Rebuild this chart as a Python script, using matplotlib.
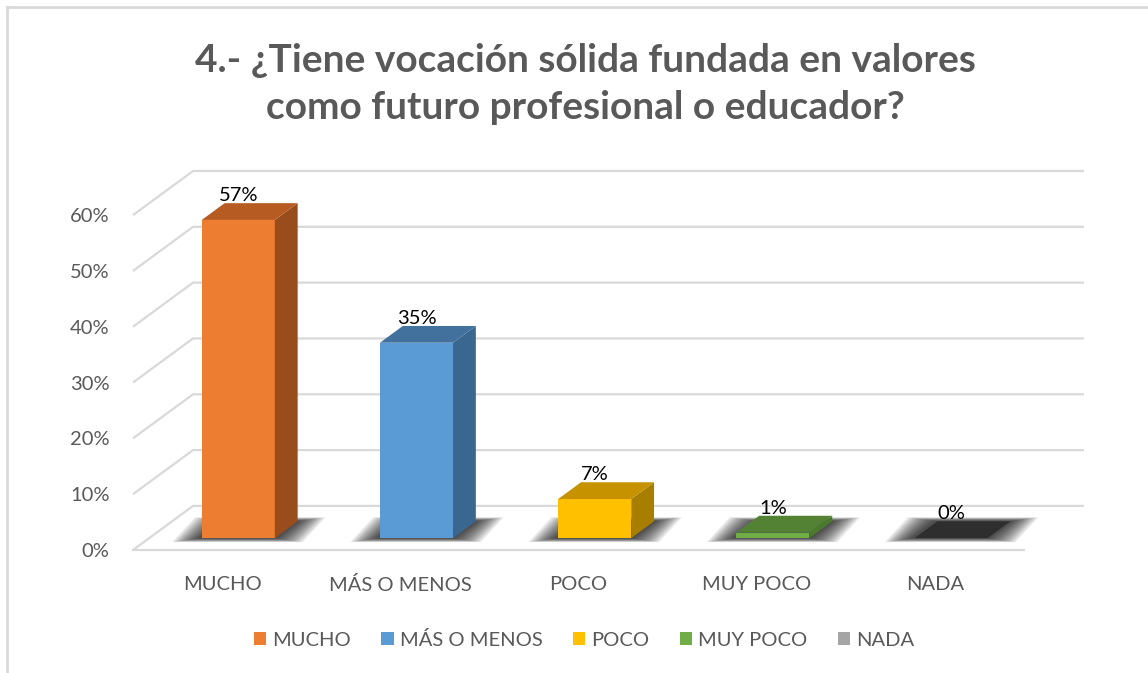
import numpy as np
import matplotlib
matplotlib.use("Agg")
import matplotlib.pyplot as plt
from matplotlib.patches import Polygon, Rectangle, Patch
from matplotlib.lines import Line2D

# data
categories = ["MUCHO", "MÁS O MENOS", "POCO", "MUY POCO", "NADA"]
values = [57, 35, 7, 1, 0]  # percent
labels = ["57%", "35%", "7%", "1%", "0%"]
yticks = [0, 10, 20, 30, 40, 50, 60]

front_cols = ["#ED7D31", "#5B9BD5", "#FFC000", "#70AD47", "#A5A5A5"]
side_cols = ["#9A4D1C", "#3A6790", "#A87E00", "#4B7A2F", "#333333"]
top_cols = ["#B65B21", "#41719C", "#C69200", "#548235", "#2E2E2E"]

plt.rcParams['font.family'] = ['Lato', 'DejaVu Sans']
grey = "#595959"
grid_col = "#D9D9D9"

# fake 3d geometry (data units): depth vector of the floor, bar position in depth
dx, dy = 0.337, 7.9
f_d, b_d = 0.27, 0.65
w = 0.205

fig = plt.figure(figsize=(11.48, 6.73), dpi=100)
ax = fig.add_axes([133/1148, (673-550)/673, 951/1148, 379/673])
ax.set_xlim(-0.5, 4.5 + dx)
ax.set_ylim(0, 60 + dy)
for s in ax.spines.values():
    s.set_visible(False)

# walls / gridlines
for v in yticks:
    ax.plot([-0.5, -0.5 + dx, 4.5 + dx], [v, v + dy, v + dy], color=grid_col, lw=1.6,
            solid_capstyle='butt', clip_on=False, zorder=1)
ax.plot([-0.5, 4.5], [0, 0], color=grid_col, lw=1.6, clip_on=False, zorder=1)

x = np.arange(len(categories))

# soft shadows on the floor
for i in x:
    for k in range(12, 0, -1):
        ex = 0.013 * k
        ey = 0.06 * k
        pts = [(i - w + f_d*dx - ex - 0.01, f_d*dy - ey), (i + w + f_d*dx + ex, f_d*dy - ey),
               (i + w + b_d*dx + ex, b_d*dy + ey), (i - w + b_d*dx - ex - 0.01, b_d*dy + ey)]
        ax.add_patch(Polygon(pts, closed=True, facecolor="black", edgecolor="none",
                             alpha=0.09, zorder=2))

# bars
for i, v in zip(x, values):
    x0 = i - w + f_d*dx
    x1 = i + w + f_d*dx
    y0 = f_d*dy
    ddx = (b_d - f_d)*dx
    ddy = (b_d - f_d)*dy
    if v > 0:
        ax.add_patch(Rectangle((x0, y0), 2*w, v, facecolor=front_cols[i], edgecolor="none", zorder=3))
        ax.add_patch(Polygon([(x1, y0), (x1 + ddx, y0 + ddy), (x1 + ddx, y0 + ddy + v), (x1, y0 + v)],
                             facecolor=side_cols[i], edgecolor="none", zorder=3))
    ax.add_patch(Polygon([(x0, y0 + v), (x1, y0 + v), (x1 + ddx, y0 + ddy + v), (x0 + ddx, y0 + ddy + v)],
                         facecolor=top_cols[i], edgecolor="none", zorder=3))
    ax.text(i + f_d*dx, v + b_d*dy + 0.4, labels[i], ha='center', va='baseline',
            fontsize=14.5, color="black", zorder=5)

ax.set_yticks(yticks)
ax.set_yticklabels([f"{t}%" for t in yticks], color=grey, fontsize=14.5)
ax.set_xticks(x)
ax.set_xticklabels(categories, color=grey, fontsize=14.5)
ax.tick_params(axis='y', length=0, pad=17)
ax.tick_params(axis='x', length=0, pad=19)

fig.text(0.51, 1 - 84/673, "4.- ¿Tiene vocación sólida fundada en valores\ncomo futuro profesional o educador?",
         ha='center', va='center', fontsize=28, fontweight='bold', color=grey, linespacing=1.4)

handles = [Patch(facecolor=c, edgecolor='none') for c in front_cols]
fig.legend(handles, categories, loc='center', bbox_to_anchor=(584/1148, 1 - 640/673), ncol=5,
           frameon=False, fontsize=14.5, handlelength=0.62, handleheight=0.62,
           handletextpad=0.3, columnspacing=1.5, labelcolor=grey)

# chart border (top and left visible)
fig.add_artist(Line2D([7/1148, 1], [1 - 7/673, 1 - 7/673], color=grid_col, lw=2))
fig.add_artist(Line2D([7/1148, 7/1148], [0, 1 - 7/673], color=grid_col, lw=2))

fig.savefig("out.png", dpi=100)
